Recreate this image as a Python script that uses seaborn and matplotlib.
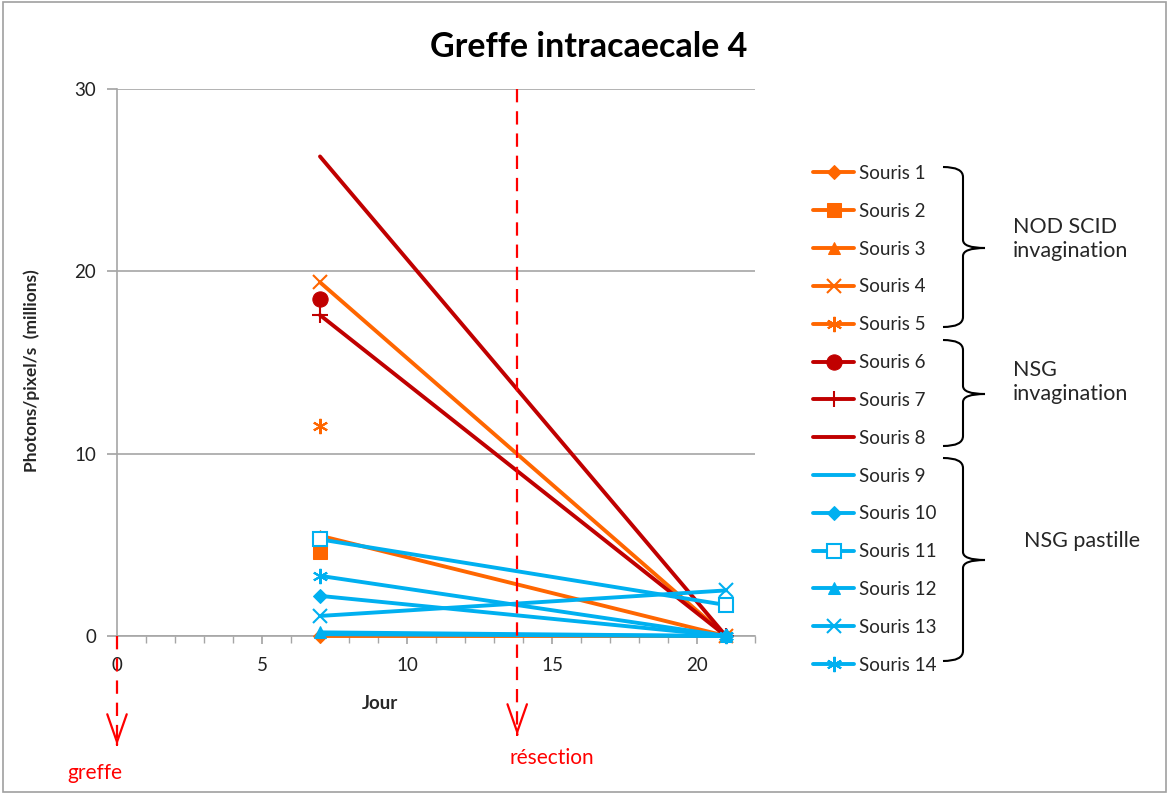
import numpy as np
import pandas as pd
import matplotlib
matplotlib.use("Agg")
import matplotlib.pyplot as plt
import seaborn as sns
from matplotlib.path import Path
from matplotlib.patches import PathPatch, Rectangle
from matplotlib.transforms import Affine2D
from matplotlib.ticker import MultipleLocator

# Data: photons/pixel/s (millions) per mouse, measured on day 7 and day 21
days = [7, 21]
mice = ["Souris 1", "Souris 2", "Souris 3", "Souris 4", "Souris 5", "Souris 6", "Souris 7",
        "Souris 8", "Souris 9", "Souris 10", "Souris 11", "Souris 12", "Souris 13", "Souris 14"]
souris_1 = [0.0, 0.0]
souris_2 = [4.6, np.nan]
souris_3 = [5.5, 0.0]
souris_4 = [19.4, 0.0]
souris_5 = [11.5, np.nan]
souris_6 = [18.5, np.nan]
souris_7 = [17.6, 0.0]
souris_8 = [26.3, 0.0]
souris_9 = [0.1, 0.0]
souris_10 = [2.2, 0.0]
souris_11 = [5.3, 1.7]
souris_12 = [0.2, 0.0]
souris_13 = [1.1, 2.5]
souris_14 = [3.3, 0.0]
values = [souris_1, souris_2, souris_3, souris_4, souris_5, souris_6, souris_7,
          souris_8, souris_9, souris_10, souris_11, souris_12, souris_13, souris_14]

groups = ["NOD SCID\ninvagination", "NSG\ninvagination", "NSG pastille"]
event_days = [0, 13.8]
event_labels = ["greffe", "résection"]

ORANGE = "#FF6600"
DARKRED = "#C00000"
BLUE = "#00B0F0"
ASTER = (6, 2, 0)
styles = [
    dict(color=ORANGE, marker="D", ms=7),
    dict(color=ORANGE, marker="s", ms=10),
    dict(color=ORANGE, marker="^", ms=9),
    dict(color=ORANGE, marker="x", ms=10, mew=1.5),
    dict(color=ORANGE, marker=ASTER, ms=11, mew=1.5),
    dict(color=DARKRED, marker="o", ms=11),
    dict(color=DARKRED, marker="+", ms=11, mew=1.5),
    dict(color=DARKRED, marker=None),
    dict(color=BLUE, marker=None),
    dict(color=BLUE, marker="D", ms=7),
    dict(color=BLUE, marker="s", ms=10, mfc="white", mew=1.5),
    dict(color=BLUE, marker="^", ms=9),
    dict(color=BLUE, marker="x", ms=10, mew=1.5),
    dict(color=BLUE, marker=ASTER, ms=11, mew=1.5),
]

rows = []
for name, vals in zip(mice, values):
    for d, v in zip(days, vals):
        rows.append({"Jour": d, "Valeur": v, "Souris": name})
df = pd.DataFrame(rows)

sns.set_theme(style="white")
plt.rcParams["font.family"] = ["Lato", "DejaVu Sans"]

W, H = 1169, 794
fig = plt.figure(figsize=(W / 100, H / 100), dpi=100)
ax = fig.add_axes([117 / W, 1 - 636 / H, (755 - 117) / W, (636 - 89) / H])

for name, st in zip(mice, styles):
    sub = df[df["Souris"] == name]
    kw = dict(st)
    marker = kw.pop("marker")
    color = kw.pop("color")
    sns.lineplot(data=sub, x="Jour", y="Valeur", ax=ax, color=color, marker=marker,
                 lw=2.8, mec=color, label=name, clip_on=False, zorder=3, **kw)

handles, labels = ax.get_legend_handles_labels()
ax.get_legend().remove()

ax.set_xlim(0, 22)
ax.set_ylim(0, 30)
ax.xaxis.set_major_locator(MultipleLocator(5))
ax.xaxis.set_minor_locator(MultipleLocator(1))
ax.yaxis.set_major_locator(MultipleLocator(10))
ax.yaxis.grid(True, color="#A6A6A6", lw=1.2)
for s in ["top", "right"]:
    ax.spines[s].set_visible(False)
for s in ["left", "bottom"]:
    ax.spines[s].set_color("#A6A6A6")
    ax.spines[s].set_linewidth(1.2)
ax.tick_params(axis="both", which="both", direction="out", color="#A6A6A6",
               labelsize=13.5, labelcolor="#222222")
ax.tick_params(axis="x", which="major", length=6, bottom=True, pad=9)
ax.tick_params(axis="x", which="minor", length=5, bottom=True)
ax.tick_params(axis="y", which="major", length=7, left=True, pad=8)

ax.set_xlabel("Jour", fontsize=13.5, fontweight="bold")
ax.set_ylabel("Photons/pixel/s  (millions)", fontsize=12.5, fontweight="bold")
ax.xaxis.set_label_coords(0.412, -0.108)
ax.yaxis.set_label_coords(-0.121, 0.486)

# event markers (greffe / résection)
tips = [-6.0, -5.45]
starts = [0, 30]
for d, y0, yt in zip(event_days, starts, tips):
    ax.plot([d, d], [y0, yt + 0.3], color="#FF0000", lw=1.6, ls=(0, (6, 4)),
            clip_on=False, zorder=4)
    ax.annotate("", xy=(d, yt), xytext=(d, yt + 0.2), annotation_clip=False,
                arrowprops=dict(arrowstyle="->, head_length=1.0, head_width=0.35",
                                color="#FF0000", lw=1.6, mutation_scale=20))
fig.text(95 / W, 1 - 773 / H, event_labels[0], color="#FF0000", fontsize=15,
         ha="center", va="center")
fig.text(552 / W, 1 - 758 / H, event_labels[1], color="#FF0000", fontsize=15,
         ha="center", va="center")

fig.text(589 / W, 1 - 47 / H, "Greffe intracaecale 4", fontsize=24.5, fontweight="bold",
         ha="center", va="center", color="black")

fig.legend(handles, labels, loc="upper left", bbox_to_anchor=(813 / W, 1 - 165 / H),
           frameon=False, fontsize=13.5, handlelength=2.2, handletextpad=0.25,
           labelspacing=1.11, borderpad=0, borderaxespad=0)

# braces grouping the legend
px = Affine2D().scale(1 / W, -1 / H).translate(0, 1) + fig.transFigure


def brace(yt, ytip, yb, xl=943, xv=963, xt=985):
    verts = [(xl, yt), (xv, yt), (xv, yt + 10), (xv, ytip - 8), (xv, ytip), (xt, ytip),
             (xv, ytip), (xv, ytip + 8), (xv, yb - 10), (xv, yb), (xl, yb)]
    codes = [Path.MOVETO, Path.CURVE3, Path.CURVE3, Path.LINETO, Path.CURVE3, Path.CURVE3,
             Path.CURVE3, Path.CURVE3, Path.LINETO, Path.CURVE3, Path.CURVE3]
    fig.patches.append(PathPatch(Path(verts, codes), transform=px, fill=False,
                                 lw=1.5, ec="black"))


brace(167, 248, 327)
brace(340, 394, 446)
brace(458, 560, 661)

fig.text(1013 / W, 1 - 239 / H, groups[0], fontsize=15.5, ha="left", va="center",
         linespacing=1.25)
fig.text(1013 / W, 1 - 382 / H, groups[1], fontsize=15.5, ha="left", va="center",
         linespacing=1.25)
fig.text(1024 / W, 1 - 541 / H, groups[2], fontsize=15.5, ha="left", va="center")

fig.patches.append(Rectangle((3 / W, 2 / H), 1 - 6 / W, 1 - 4 / H, transform=fig.transFigure,
                             fill=False, ec="#A0A0A0", lw=1.2))

fig.savefig("out.png", dpi=100)
